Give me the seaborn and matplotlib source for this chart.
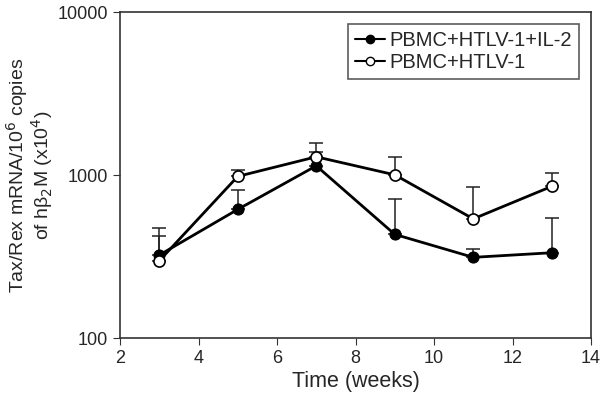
import numpy as np
import seaborn as sns
import matplotlib
matplotlib.use("Agg")
import matplotlib.pyplot as plt

# --- data ---
weeks = [3, 5, 7, 9, 11, 13]
il2_mean = [323, 616, 1140, 433, 313, 334]
il2_upper = [422, 812, 1390, 713, 352, 543]
htlv_mean = [298, 982, 1295, 1004, 539, 853]
htlv_upper = [473, 1073, 1578, 1295, 848, 1024]
labels = ["PBMC+HTLV-1+IL-2", "PBMC+HTLV-1"]

sns.set_style("ticks")
plt.rcParams["font.family"] = ["Liberation Sans", "DejaVu Sans"]

fig = plt.figure(figsize=(6, 4.03), dpi=100)
ax = fig.add_axes([0.2, 0.161, 0.785, 0.809])

# upper-only error bars
for mean, upper in [(il2_mean, il2_upper), (htlv_mean, htlv_upper)]:
    mean = np.array(mean)
    err = np.array(upper) - mean
    ax.errorbar(weeks, mean, yerr=[np.zeros_like(err), err], fmt="none",
                ecolor="#222222", elinewidth=1.1, capsize=5, capthick=1.1, zorder=1)

# filled series
sns.lineplot(x=weeks, y=il2_mean, color="black", marker="o", linewidth=2,
             markersize=8, markerfacecolor="black", markeredgecolor="black",
             ax=ax, zorder=3)
# open series
sns.lineplot(x=weeks, y=htlv_mean, color="black", marker="o", linewidth=2,
             markersize=8, markerfacecolor="white", markeredgecolor="black",
             markeredgewidth=1.2, ax=ax, zorder=4)

ax.set_yscale("log")
ax.set_ylim(100, 10000)
ax.set_xlim(2, 14)
ax.set_xticks([2, 4, 6, 8, 10, 12, 14])
ax.set_yticks([100, 1000, 10000])
ax.set_yticklabels(["100", "1000", "10000"])
ax.yaxis.set_minor_locator(matplotlib.ticker.NullLocator())
ax.tick_params(axis="both", labelsize=13, direction="out", length=5, color="#333333")

for s in ax.spines.values():
    s.set_color("#333333")
    s.set_linewidth(1.2)

ax.set_xlabel("Time (weeks)", fontsize=15.5, labelpad=3)
ax.set_ylabel("Tax/Rex mRNA/10$^{6}$ copies\nof h\u03b2$_{2}$M (x10$^{4}$)", fontsize=14,
              linespacing=0.95, labelpad=2)

leg_handles = [
    plt.Line2D([], [], color="black", lw=1.5, marker="o", markersize=6,
               markerfacecolor="black"),
    plt.Line2D([], [], color="black", lw=1.5, marker="o", markersize=6,
               markerfacecolor="white"),
]
leg = ax.legend(leg_handles, labels, loc="upper right", fontsize=14.5,
                frameon=True, fancybox=False, edgecolor="#333333",
                handlelength=1.5, handletextpad=0.2, borderpad=0.35,
                labelspacing=0.15, bbox_to_anchor=(0.995, 0.995))
leg.get_frame().set_linewidth(1.2)

fig.savefig("out.png", dpi=100)
